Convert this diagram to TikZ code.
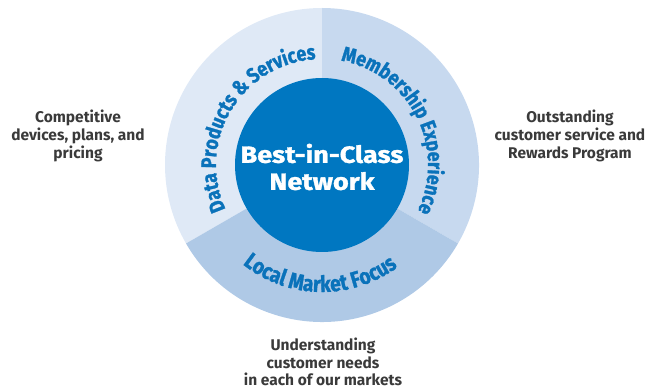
\documentclass[tikz,border=0pt]{standalone}
\usepackage{fontspec}
\setmainfont{Fira Sans}
\newfontfamily\arcfont{Fira Sans}[FakeStretch=0.85, FakeBold=1.2]
\newfontfamily\corefont{Fira Sans}[FakeStretch=1.15, FakeBold=1.4]
\usetikzlibrary{decorations.text,calc}

\definecolor{segLeft}{HTML}{DFE9F6}
\definecolor{segRight}{HTML}{C7D9EF}
\definecolor{segBottom}{HTML}{AFC9E6}
\definecolor{coreBlue}{HTML}{0077C1}
\definecolor{arcBlue}{HTML}{0A72BA}
\definecolor{labelGrey}{HTML}{3A3A3A}

\tikzset{
  corecircle/.style={circle, fill=coreBlue, inner sep=0pt, minimum size=174pt},
  coretext/.style={text=white, align=center, font=\corefont\bfseries\fontsize{23.5}{27}\selectfont},
  sidelabel/.style={text=labelGrey, align=center, font=\bfseries\fontsize{15.5}{17.8}\selectfont, inner sep=0pt},
  arcwords/.style={decorate, decoration={text along path, text align=center, text color=arcBlue, text={#1}}}
}

\begin{document}
\begin{tikzpicture}[x=1pt,y=1pt]
\useasboundingbox (0,0) rectangle (654,391);
\coordinate (C) at (322,226);

% three sectors of the outer ring
\fill[segLeft]   (C) -- ++(90:157)  arc[start angle=90,  end angle=210, radius=157] -- cycle;
\fill[segRight]  (C) -- ++(-30:157) arc[start angle=-30, end angle=90,  radius=157] -- cycle;
\fill[segBottom] (C) -- ++(210:157) arc[start angle=210, end angle=330, radius=157] -- cycle;

% central disc
\node[corecircle] (core) at (C) {};
\node[coretext] (coreLabel) at ($(C)+(0,-2)$) {Best-in-Class\\Network};

% curved ring titles
\path[arcwords={|\arcfont\bfseries\fontsize{21}{21}\selectfont|Data Products {\&} Services}]
  ($(C)+(205:106)$) arc[start angle=205, end angle=93, radius=106];
\path[arcwords={|\arcfont\bfseries\fontsize{21}{21}\selectfont|Membership Experience}]
  ($(C)+(85:106)$) arc[start angle=85, end angle=-31, radius=106];
\path[arcwords={|\arcfont\bfseries\fontsize{22.5}{22.5}\selectfont|Local Market Focus}]
  ($(C)+(215:127)$) arc[start angle=215, end angle=323, radius=127];

% outer captions
\node[sidelabel] (leftLabel)   at (78,255)  {Competitive\\devices, plans, and\\pricing};
\node[sidelabel] (rightLabel)  at (570,255) {Outstanding\\customer service and\\Rewards Program};
\node[sidelabel] (bottomLabel) at (323,29)  {Understanding\\customer needs\\in each of our markets};
\end{tikzpicture}
\end{document}
